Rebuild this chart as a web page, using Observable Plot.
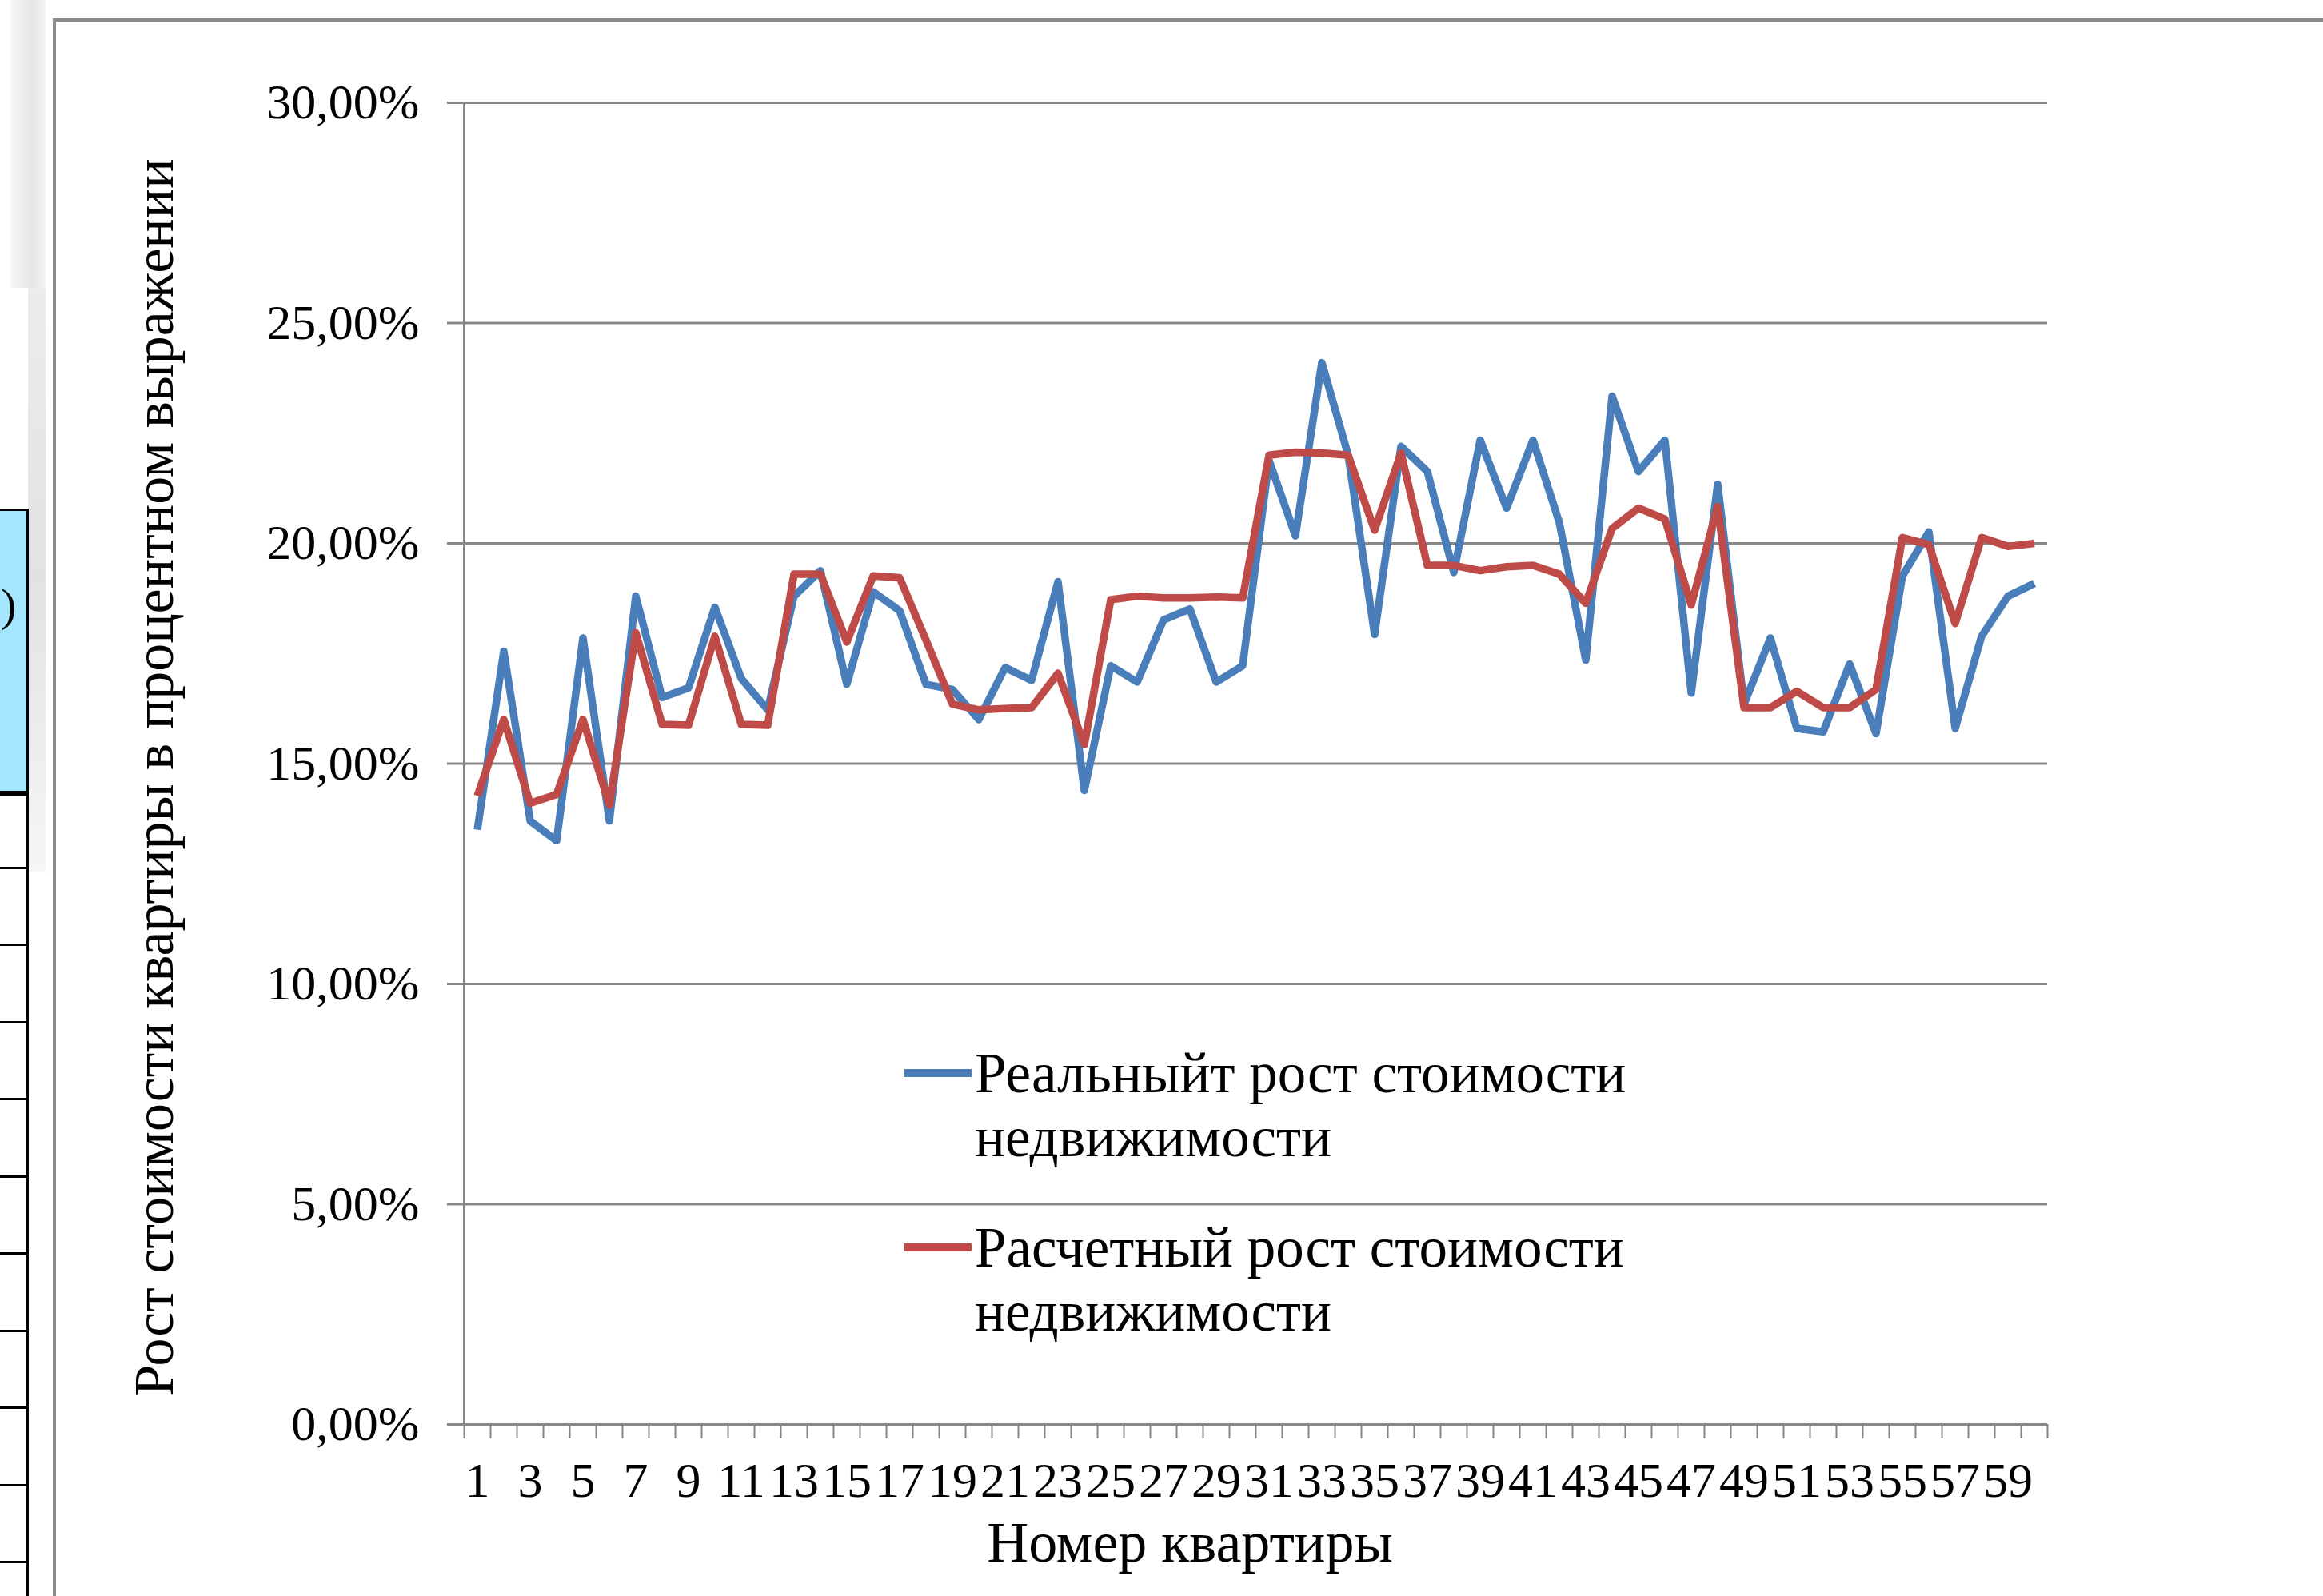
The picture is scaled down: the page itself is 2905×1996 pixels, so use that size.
<!DOCTYPE html>
<html>
<head>
<meta charset="utf-8">
<script src="https://cdn.jsdelivr.net/npm/d3@7"></script>
<script src="https://cdn.jsdelivr.net/npm/@observablehq/plot@0.6"></script>
<style>
  html, body { margin: 0; padding: 0; background: #fff; }
  #wrap { position: relative; width: 2905px; height: 1996px; overflow: hidden; background: #fff;
          font-family: "Liberation Serif", "Times New Roman", serif; color: #000; }
  #chart { position: absolute; left: 0; top: 0; }
  .abs { position: absolute; white-space: nowrap; }
</style>
</head>
<body>
<div id="wrap">
  <!-- cropped neighbouring page content on the left -->
  <div class="abs" style="left:13px;top:0;width:44px;height:360px;background:linear-gradient(90deg,#f7f7f7,#e6e6e6 60%,#f2f2f2);"></div>
  <div class="abs" style="left:35px;top:360px;width:22px;height:730px;background:linear-gradient(180deg,#ececec,#e2e2e2 50%,#f6f6f6);"></div>
  <div class="abs" style="left:0;top:636px;width:33px;height:350px;background:#a3e6fd;border-top:3px solid #000;border-right:3px solid #000;border-bottom:6px solid #000;"></div>
  <div class="abs" style="left:1px;top:728px;font-size:58px;line-height:1;">)</div>
  <div id="table" class="abs" style="left:0;top:991px;width:33px;height:1005px;border-right:3px solid #000;"></div>

  <!-- outer chart frame -->
  <div class="abs" style="left:66px;top:23px;width:2900px;height:2000px;border-left:4px solid #8a8a8a;border-top:4px solid #8a8a8a;"></div>

  <div id="chart"></div>

  <!-- axis titles -->
  <div class="abs" id="ytitle" style="left:193px;top:972px;font-size:70px;line-height:70px;transform:translate(-50%,-50%) rotate(-90deg);">Рост стоимости квартиры в процентном выражении</div>
  <div class="abs" id="xtitle" style="left:1488px;top:1893px;font-size:72px;line-height:72px;transform:translateX(-50%);">Номер квартиры</div>

  <!-- legend -->
  <div id="legend"></div>
</div>
<script>
// ---- data ----
const quarters = [1,2,3,4,5,6,7,8,9,10,11,12,13,14,15,16,17,18,19,20,
  21,22,23,24,25,26,27,28,29,30,31,32,33,34,35,36,37,38,39,40,
  41,42,43,44,45,46,47,48,49,50,51,52,53,54,55,56,57,58,59,60];

// Реальный рост стоимости, %
const realGrowth = [13.50,17.55,13.70,13.25,17.85,13.70,18.80,16.50,16.72,18.55,
  16.93,16.22,18.80,19.38,16.80,18.90,18.47,16.80,16.68,16.00,
  17.18,16.89,19.13,14.39,17.22,16.85,18.26,18.51,16.85,17.22,
  21.88,20.17,24.10,22.00,17.93,22.20,21.63,19.34,22.34,20.80,
  22.34,20.47,17.35,23.34,21.63,22.34,16.60,21.34,16.35,17.85,
  15.80,15.72,17.26,15.68,19.26,20.26,15.80,17.89,18.80,19.09];

// Расчетный рост стоимости, %
const estGrowth = [14.27,16.00,14.10,14.30,16.00,14.06,17.97,15.89,15.87,17.89,
  15.89,15.87,19.30,19.30,17.76,19.26,19.22,17.80,16.35,16.22,
  16.25,16.27,17.05,15.43,18.72,18.80,18.76,18.76,18.78,18.76,
  22.00,22.07,22.05,22.00,20.30,22.05,19.50,19.50,19.38,19.47,
  19.50,19.30,18.64,20.34,20.80,20.55,18.60,20.84,16.27,16.27,
  16.64,16.27,16.27,16.68,20.13,19.97,18.18,20.13,19.93,20.00];

const xTickLabels = [1,3,5,7,9,11,13,15,17,19,21,23,25,27,29,31,33,35,37,39,41,43,45,47,49,51,53,55,57,59];
const yTicks = [0,5,10,15,20,25,30];
const seriesNames = ["Реальныйт рост стоимости недвижимости", "Расчетный рост стоимости недвижимости"];
const seriesColors = ["#4a7ebb", "#be4b48"];

// ---- build ----
const rows = [];
quarters.forEach((q, i) => rows.push({q, v: realGrowth[i], s: seriesNames[0]}));
quarters.forEach((q, i) => rows.push({q, v: estGrowth[i], s: seriesNames[1]}));
const boundaries = quarters.map(q => q - 0.5).concat([quarters[quarters.length - 1] + 0.5]);
const grid = "#878787";

const chart = Plot.plot({
  width: 2905,
  height: 1996,
  marginLeft: 580,
  marginRight: 345,
  marginTop: 128,
  marginBottom: 215,
  style: {fontFamily: "'Liberation Serif', 'Times New Roman', serif", fontSize: "62px", color: "#000", background: "transparent", overflow: "visible"},
  x: {domain: [boundaries[0], boundaries[boundaries.length - 1]]},
  y: {domain: [0, 30]},
  color: {domain: seriesNames, range: seriesColors},
  marks: [
    Plot.ruleY(yTicks, {stroke: grid, strokeWidth: 3}),
    Plot.ruleX([boundaries[0]], {stroke: grid, strokeWidth: 3}),
    Plot.axisY({ticks: yTicks, tickSize: 21, tickPadding: 35, stroke: grid, strokeWidth: 3, label: null,
      tickFormat: d => d.toFixed(2).replace(".", ",") + "%"}),
    Plot.axisX({ticks: boundaries, tickSize: 18, stroke: grid, strokeWidth: 2, tickFormat: () => "", label: null}),
    Plot.axisX({ticks: xTickLabels, tickSize: 0, tickPadding: 46, label: null, tickFormat: d => String(d)}),
    Plot.line(rows, {x: "q", y: "v", z: "s", stroke: "s", strokeWidth: 9.5, strokeLinejoin: "round", strokeLinecap: "butt"})
  ]
});
document.getElementById("chart").appendChild(chart);

// table rows of the cropped neighbouring table
const table = document.getElementById("table");
for (let k = 1; k <= 10; k++) {
  const d = document.createElement("div");
  d.className = "abs";
  d.style.cssText = `left:0;top:${k * 96.5 - 4}px;width:33px;height:0;border-top:3px solid #000;`;
  table.appendChild(d);
}

// legend
const legend = document.getElementById("legend");
const legendTops = [1302, 1520];
seriesNames.forEach((name, i) => {
  const sw = document.createElement("div");
  sw.className = "abs";
  sw.style.cssText = `left:1131px;top:${legendTops[i] + 35}px;width:84px;height:10px;background:${seriesColors[i]};`;
  legend.appendChild(sw);
  const words = name.split(" ");
  const t = document.createElement("div");
  t.className = "abs";
  t.style.cssText = `left:1219px;top:${legendTops[i]}px;font-size:71px;line-height:80px;`;
  t.innerHTML = words.slice(0, 3).join(" ") + "<br>" + words.slice(3).join(" ");
  legend.appendChild(t);
});
</script>
</body>
</html>
